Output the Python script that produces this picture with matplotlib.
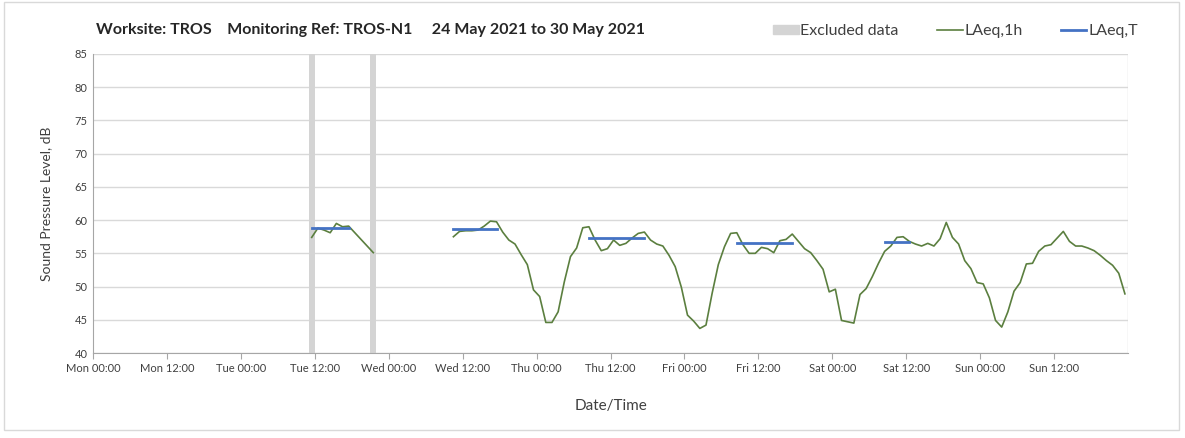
import numpy as np
import matplotlib
matplotlib.use("Agg")
import matplotlib.pyplot as plt
from matplotlib.patches import Patch, Rectangle
from matplotlib.lines import Line2D

plt.rcParams['font.family'] = ['Lato', 'DejaVu Sans']

# hours counted from Mon 24 May 2021 00:00, hourly values plotted mid-hour
tue_start = 35.5
tue_vals = [57.4, 58.8, 58.5, 58.1, 59.5, 59.0, 59.1, 58.1, 57.1, 56.1, 55.1]

main_start = 58.5
wed_vals = [57.5, 58.3, 58.4, 58.4, 58.5, 59.1, 59.85, 59.75, 58.2, 57.0,
            56.4, 54.8, 53.3, 49.5]
thu_vals = [48.5, 44.6, 44.6, 46.2, 50.7, 54.5, 55.8, 58.85, 59.0, 57.0,
            55.4, 55.7, 57.0, 56.2, 56.5, 57.3, 58.0, 58.2, 57.0, 56.4,
            56.1, 54.7, 53.0, 49.9]
fri_vals = [45.7, 44.8, 43.7, 44.2, 49.0, 53.3, 56.0, 58.0, 58.1, 56.3,
            55.0, 55.0, 55.9, 55.7, 55.1, 56.9, 57.1, 57.9, 56.8, 55.7,
            55.1, 53.9, 52.6, 49.2]
sat_vals = [49.6, 44.9, 44.7, 44.5, 48.8, 49.7, 51.5, 53.5, 55.3, 56.1,
            57.4, 57.5, 56.8, 56.4, 56.1, 56.5, 56.1, 57.2, 59.65, 57.4,
            56.4, 53.9, 52.7, 50.6]
sun_vals = [50.4, 48.3, 44.9, 43.9, 46.2, 49.3, 50.6, 53.4, 53.5, 55.3,
            56.1, 56.3, 57.3, 58.3, 56.8, 56.1, 56.1, 55.8, 55.4, 54.7,
            53.9, 53.2, 52.0, 48.9]

# LAeq,T periods (start hour, end hour, level)
laeqt_start = [35.5, 58.5, 80.5, 104.5, 128.5]
laeqt_end = [41.5, 65.5, 89.5, 113.5, 132.5]
laeqt_val = [58.8, 58.7, 57.25, 56.5, 56.7]

# excluded data periods
excl_start = [35.0, 45.0]
excl_end = [36.0, 46.0]

tick_labels = ['Mon 00:00', 'Mon 12:00', 'Tue 00:00', 'Tue 12:00', 'Wed 00:00',
               'Wed 12:00', 'Thu 00:00', 'Thu 12:00', 'Fri 00:00', 'Fri 12:00',
               'Sat 00:00', 'Sat 12:00', 'Sun 00:00', 'Sun 12:00']

main_vals = wed_vals + thu_vals + fri_vals + sat_vals + sun_vals
tue_x = tue_start + np.arange(len(tue_vals))
main_x = main_start + np.arange(len(main_vals))
x = np.concatenate([tue_x, [np.nan], main_x])
y = np.concatenate([tue_vals, [np.nan], main_vals])

fig = plt.figure(figsize=(11.85, 4.38), dpi=100)
ax = fig.add_axes([93/1185, 1-353/438, (1128-93)/1185, (353-54)/438])

for s, e in zip(excl_start, excl_end):
    ax.axvspan(s, e, color='#d4d4d4', lw=0, zorder=1)

green = '#5b7f3f'
blue = '#4472c4'
ax.plot(x, y, color=green, lw=1.2, zorder=3)
for s, e, v in zip(laeqt_start, laeqt_end, laeqt_val):
    ax.plot([s, e], [v, v], color=blue, lw=2, zorder=4)

ax.set_xlim(0, 168)
ax.set_ylim(40, 85)
ax.set_yticks(np.arange(40, 86, 5))
ax.set_xticks(np.arange(0, 168, 12))
ax.set_xticklabels(tick_labels)
ax.set_xticks(np.arange(24, 169, 24), minor=True)
ax.grid(axis='y', color='#d9d9d9', lw=1)
ax.grid(axis='x', which='minor', color='#d9d9d9', lw=1)
ax.set_axisbelow(True)
ax.tick_params(axis='x', which='major', length=4, color='#a6a6a6',
               labelsize=8, colors='#404040', pad=3)
ax.tick_params(axis='x', which='minor', length=0)
ax.tick_params(axis='y', length=0, labelsize=8, colors='#404040', pad=4)
for side in ['top', 'right']:
    ax.spines[side].set_visible(False)
ax.spines['left'].set_color('#a6a6a6')
ax.spines['bottom'].set_color('#a6a6a6')

ax.set_ylabel('Sound Pressure Level, dB', fontsize=10, color='#404040', labelpad=16)
ax.set_xlabel('Date/Time', fontsize=11, color='#404040', labelpad=18)

fig.text(96/1185, 1-30/438,
         'Worksite: TROS    Monitoring Ref: TROS-N1     24 May 2021 to 30 May 2021',
         fontsize=11.5, fontweight='bold', color='#262626', va='center')

handles = [Patch(color='#d4d4d4', label='Excluded data'),
           Line2D([], [], color=green, lw=1.2, label='LAeq,1h'),
           Line2D([], [], color=blue, lw=2, label='LAeq,T')]
fig.legend(handles=handles, loc='center right', bbox_to_anchor=(1152/1185, 1-31/438),
           ncol=3, frameon=False, fontsize=11.5, handlelength=1.6, handleheight=0.5,
           handletextpad=0.1, columnspacing=2.4, labelcolor='#404040')

fig.add_artist(Rectangle((4/1185, 8/438), 1175/1185, 428/438, transform=fig.transFigure,
                         fill=False, edgecolor='#d9d9d9', lw=1))

fig.savefig('out.png', dpi=100)
